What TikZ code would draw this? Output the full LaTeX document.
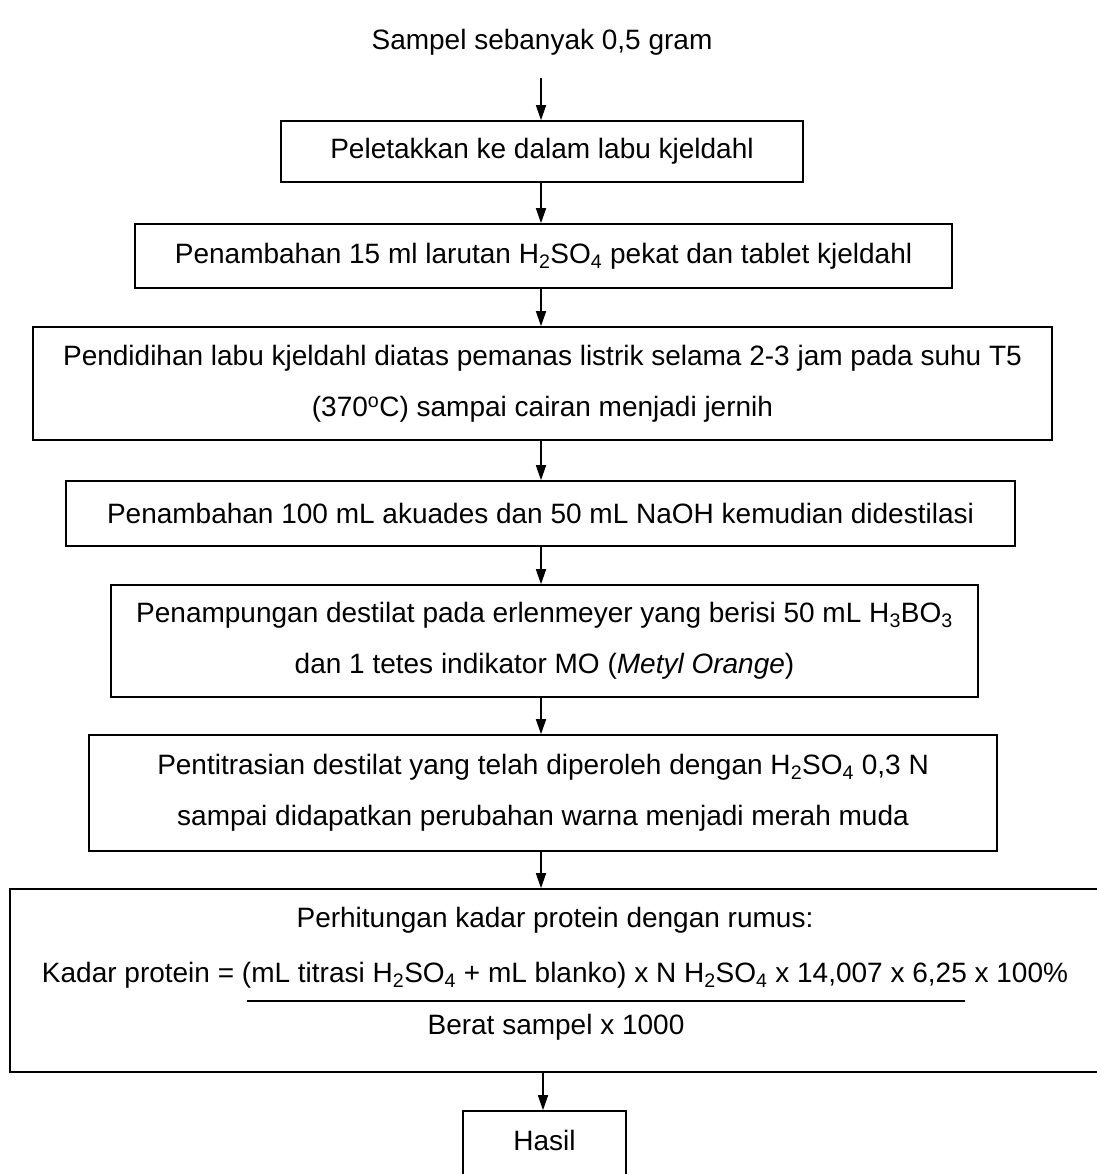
\documentclass[tikz,border=0pt]{standalone}
\usepackage{fontspec}
\setmainfont{Liberation Sans}
\usetikzlibrary{arrows.meta}
\begin{document}
\begin{tikzpicture}[x=1pt,y=1pt,
  box/.style={draw=black,line width=1.6pt,align=center,inner sep=0pt,
    font=\fontsize{28}{51}\selectfont},
  txt/.style={align=center,inner sep=0pt,font=\fontsize{28}{51}\selectfont},
  arr/.style={line width=1.5pt,-{Triangle[length=15pt,width=10pt]}}]
\useasboundingbox (0,0) rectangle (1096,-1174);
\node[txt] (t) at (542,-42) {Sampel sebanyak 0,5 gram};
\node[box,minimum width=522pt,minimum height=61pt] (b1) at (542,-151.5)
  {Peletakkan ke dalam labu kjeldahl};
\node[box,minimum width=817pt,minimum height=64pt] (b2) at (543.5,-256)
  {Penambahan 15 ml larutan H\textsubscript{2}SO\textsubscript{4} pekat dan tablet kjeldahl};
\node[box,minimum width=1019pt,minimum height=113pt] (b3) at (542.5,-383.5)
  {Pendidihan labu kjeldahl diatas pemanas listrik selama 2-3 jam pada suhu T5\\
   (370\textsuperscript{o}C) sampai cairan menjadi jernih};
\node[box,minimum width=949pt,minimum height=65pt] (b4) at (540.5,-513.5)
  {Penambahan 100 mL akuades dan 50 mL NaOH kemudian didestilasi};
\node[box,minimum width=867pt,minimum height=112pt] (b5) at (544.5,-641)
  {Penampungan destilat pada erlenmeyer yang berisi 50 mL H\textsubscript{3}BO\textsubscript{3}\\
   dan 1 tetes indikator MO (\textit{Metyl Orange})};
\node[box,minimum width=908pt,minimum height=116pt] (b6) at (543,-793)
  {Pentitrasian destilat yang telah diperoleh dengan H\textsubscript{2}SO\textsubscript{4} 0,3 N\\
   sampai didapatkan perubahan warna menjadi merah muda};
\node[box,minimum width=1092pt,minimum height=183pt] (b7) at (556,-980.5) {};
\node[txt] (f1) at (555,-920) {Perhitungan kadar protein dengan rumus:};
\node[txt] (f2) at (555,-975) {Kadar protein = (mL titrasi H\textsubscript{2}SO\textsubscript{4} + mL blanko) x N H\textsubscript{2}SO\textsubscript{4} x 14,007 x 6,25 x 100\%};
\node[txt] (f3) at (556,-1027) {Berat sampel x 1000};
\draw[line width=1.6pt] (247,-1001) -- (965,-1001);
\node[box,minimum width=163pt,minimum height=70pt] (b8) at (544.5,-1146) {};
\node[txt] (h) at (544.5,-1140) {Hasil};
\coordinate (t0) at (541,-78);
\draw[arr] (t0) -- (t0 |- b1.north);
\draw[arr] (541,-182) coordinate (c1) -- (c1 |- b2.north);
\draw[arr] (541,-288) coordinate (c2) -- (c2 |- b3.north);
\draw[arr] (541,-440) coordinate (c3) -- (c3 |- b4.north);
\draw[arr] (541,-546) coordinate (c4) -- (c4 |- b5.north);
\draw[arr] (541,-697) coordinate (c5) -- (c5 |- b6.north);
\draw[arr] (541,-851) coordinate (c6) -- (c6 |- b7.north);
\draw[arr] (543,-1072) coordinate (c7) -- (c7 |- b8.north);
\end{tikzpicture}
\end{document}
